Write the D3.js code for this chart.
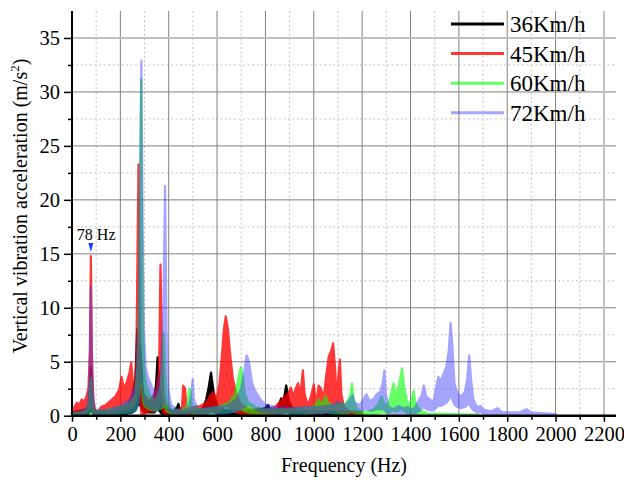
<!DOCTYPE html>
<html>
<head>
<meta charset="utf-8">
<script src="https://cdn.jsdelivr.net/npm/d3@7"></script>
<style>
  body { margin: 0; background: #fff; }
  text { font-family: "Liberation Serif", "Times New Roman", serif; fill: #000; }
</style>
</head>
<body>
<svg id="chart" width="624" height="482"></svg>
<script>
// Vibration spectra at four train speeds: frequency (Hz), upper and lower envelope (m/s^2)
const speeds = ["36Km/h", "45Km/h", "60Km/h", "72Km/h"];

const freq36 = [0, 20, 40, 60, 70, 75, 78, 81, 86, 95, 120, 160, 200, 230, 250, 262, 270, 276, 282, 286, 292, 300, 320, 340, 348, 354, 360, 370, 390, 420, 435, 440, 446, 460, 500, 540, 555, 565, 575, 582, 590, 605, 640, 700, 760, 800, 810, 820, 850, 865, 872, 880, 886, 895, 910, 950, 1000, 1050, 1100, 1150, 1200];
const hi36   = [0.3, 0.4, 0.5, 0.6, 1.0, 2.5, 4.5, 2.5, 0.8, 0.4, 0.4, 0.5, 0.7, 1.0, 1.8, 3.5, 8.0, 5.0, 6.5, 5.0, 2.5, 1.5, 1.2, 1.5, 3.0, 5.4, 3.0, 1.2, 0.6, 0.4, 0.8, 1.1, 0.6, 0.3, 0.4, 0.6, 1.5, 2.6, 4.0, 2.8, 1.6, 0.7, 0.5, 0.4, 0.5, 0.7, 1.0, 0.6, 0.6, 1.6, 1.2, 2.0, 2.8, 1.5, 0.7, 0.5, 0.4, 0.4, 0.4, 0.3, 0.2];
const lo36   = [0, 0.05, 0.05, 0.1, 0.2, 0.5, 1.0, 0.5, 0.2, 0.1, 0.1, 0.1, 0.1, 0.2, 0.3, 0.5, 1.0, 1.0, 1.0, 0.8, 0.5, 0.3, 0.3, 0.3, 0.5, 0.8, 0.5, 0.2, 0.1, 0.05, 0.1, 0.2, 0.1, 0.05, 0.05, 0.1, 0.2, 0.4, 0.6, 0.4, 0.3, 0.1, 0.1, 0.05, 0.1, 0.1, 0.2, 0.1, 0.1, 0.2, 0.2, 0.3, 0.4, 0.3, 0.1, 0.1, 0.05, 0.05, 0.05, 0.05, 0];

const freq45 = [0, 10, 20, 30, 40, 50, 60, 68, 74, 78, 82, 88, 95, 105, 120, 140, 160, 180, 195, 205, 215, 225, 238, 245, 252, 260, 266, 271, 275, 279, 283, 288, 295, 305, 320, 335, 350, 360, 366, 372, 378, 390, 410, 440, 455, 460, 468, 474, 500, 530, 555, 570, 585, 598, 610, 620, 628, 636, 645, 655, 665, 680, 700, 740, 800, 840, 865, 880, 892, 905, 915, 925, 935, 945, 955, 962, 975, 985, 1000, 1010, 1020, 1030, 1040, 1052, 1062, 1072, 1080, 1088, 1095, 1103, 1108, 1114, 1125, 1150, 1200];
const hi45   = [0.3, 0.8, 1.2, 1.0, 1.5, 1.3, 1.8, 2.5, 6.0, 14.8, 6.0, 1.5, 0.6, 0.3, 0.8, 1.0, 1.4, 1.8, 2.4, 3.6, 2.5, 3.0, 4.0, 4.9, 3.0, 2.5, 5.0, 15.0, 23.3, 12.0, 5.0, 2.5, 1.5, 1.8, 1.5, 1.8, 2.5, 4.0, 14.0, 6.0, 2.0, 0.8, 0.5, 0.5, 0.8, 2.8, 2.5, 0.6, 0.8, 0.9, 1.2, 1.8, 2.2, 1.5, 3.0, 5.5, 8.0, 9.2, 8.0, 5.5, 3.5, 2.0, 1.0, 0.6, 0.5, 0.8, 1.4, 1.8, 2.0, 2.6, 1.8, 2.5, 3.0, 2.0, 4.2, 2.0, 1.0, 1.5, 2.9, 1.0, 2.8, 2.5, 1.5, 3.8, 5.5, 6.0, 6.7, 4.5, 1.5, 4.0, 5.2, 2.0, 0.8, 0.4, 0.3];
const lo45   = [0, 0, 0.1, 0.1, 0.2, 0.2, 0.3, 0.5, 1.0, 3.0, 1.0, 0.3, 0.1, 0, 0.1, 0.2, 0.2, 0.3, 0.4, 0.5, 0.5, 0.6, 0.7, 0.8, 0.8, 1.0, 1.5, 3.0, 5.0, 3.0, 1.0, 0, 0, 0.3, 0.4, 0.4, 0.5, 1.0, 3.0, 1.0, 0.3, 0.1, 0, 0, 0.1, 0.3, 0.3, 0.1, 0.1, 0.2, 0.2, 0.3, 0.4, 0.3, 0.4, 0.6, 0.8, 1.0, 0.8, 0.6, 0.5, 0.3, 0.2, 0.1, 0.1, 0.1, 0.2, 0.3, 0.3, 0.4, 0.4, 0.4, 0.4, 0.4, 0.5, 0.3, 0.2, 0.2, 0.2, 0.2, 0.3, 0.3, 0.3, 0.4, 0.5, 0.5, 0.6, 0.5, 0.3, 0.4, 0.4, 0.2, 0.1, 0, 0];

const freq60 = [0, 40, 65, 73, 78, 83, 90, 140, 200, 240, 262, 272, 278, 283, 286, 289, 293, 298, 306, 320, 335, 350, 365, 375, 380, 385, 392, 410, 450, 475, 485, 490, 496, 540, 600, 650, 675, 688, 698, 706, 715, 730, 760, 800, 900, 1000, 1020, 1030, 1050, 1058, 1080, 1110, 1130, 1150, 1158, 1165, 1180, 1210, 1250, 1270, 1280, 1290, 1305, 1320, 1330, 1340, 1352, 1365, 1375, 1390, 1405, 1413, 1420, 1440, 1470, 1550, 1680];
const hi60   = [0.2, 0.3, 0.6, 1.5, 3.5, 1.5, 0.4, 0.5, 0.8, 1.2, 2.0, 5.0, 12.0, 24.0, 31.2, 20.0, 8.0, 4.5, 3.0, 2.0, 1.5, 1.5, 2.5, 4.5, 7.6, 4.0, 1.5, 0.6, 0.5, 0.8, 2.5, 2.3, 0.8, 0.6, 0.8, 1.2, 2.0, 3.5, 4.5, 3.8, 2.0, 1.2, 0.8, 0.6, 0.6, 0.8, 1.5, 1.0, 1.8, 1.2, 0.9, 1.2, 1.0, 1.8, 3.0, 1.5, 0.6, 0.3, 0.6, 1.2, 1.8, 1.2, 0.8, 2.0, 3.0, 1.8, 2.8, 4.4, 2.5, 0.8, 1.5, 2.3, 1.2, 0.5, 0.2, 0.15, 0.1];
const lo60   = [0, 0.05, 0.1, 0.3, 0.5, 0.3, 0.1, 0.1, 0.2, 0.3, 0.5, 1.0, 2.0, 4.0, 5.0, 3.0, 1.5, 1.0, 0.8, 0.6, 0.5, 0.5, 0.6, 0.8, 1.0, 0.8, 0.4, 0.2, 0.1, 0.2, 0.3, 0.3, 0.2, 0.1, 0.2, 0.3, 0.4, 0.5, 0.6, 0.5, 0.4, 0.3, 0.2, 0.2, 0.1, 0.2, 0.3, 0.2, 0.3, 0.3, 0.2, 0.2, 0.2, 0.3, 0.4, 0.3, 0.1, 0.05, 0.1, 0.2, 0.3, 0.3, 0.2, 0.4, 0.5, 0.4, 0.5, 0.6, 0.4, 0.2, 0.2, 0.3, 0.2, 0.1, 0.05, 0.02, 0];

const freq72 = [0, 40, 65, 72, 78, 84, 92, 140, 200, 240, 265, 275, 281, 287, 292, 297, 305, 315, 325, 340, 355, 368, 378, 385, 391, 398, 410, 440, 480, 494, 499, 504, 520, 580, 640, 680, 700, 712, 722, 732, 745, 760, 780, 800, 850, 900, 960, 1020, 1080, 1100, 1130, 1150, 1160, 1170, 1190, 1205, 1218, 1230, 1245, 1260, 1275, 1285, 1292, 1298, 1310, 1330, 1350, 1370, 1390, 1405, 1420, 1435, 1445, 1455, 1465, 1480, 1495, 1505, 1515, 1525, 1535, 1548, 1558, 1566, 1573, 1582, 1595, 1610, 1625, 1635, 1643, 1650, 1660, 1675, 1690, 1700, 1730, 1760, 1780, 1850, 1880, 1900, 2000];
const hi72   = [0.2, 0.4, 0.8, 3.0, 12.0, 3.0, 0.5, 0.5, 0.9, 1.5, 3.0, 8.0, 20.0, 32.9, 18.0, 8.0, 4.5, 3.5, 3.0, 2.0, 2.5, 4.0, 10.0, 21.3, 8.0, 2.5, 1.0, 0.5, 0.6, 2.0, 3.4, 1.5, 0.6, 0.8, 0.9, 1.5, 2.5, 4.0, 5.6, 5.0, 3.0, 2.2, 1.5, 1.0, 0.8, 0.7, 0.8, 0.8, 1.0, 1.3, 1.0, 1.5, 1.9, 1.2, 1.0, 1.5, 2.0, 1.4, 1.5, 2.0, 2.2, 3.0, 4.2, 2.0, 0.8, 0.6, 0.9, 0.7, 0.8, 0.5, 0.8, 1.5, 1.8, 2.8, 1.8, 1.5, 1.3, 2.5, 3.6, 3.2, 3.8, 4.5, 6.0, 8.6, 6.5, 3.0, 2.0, 1.8, 2.2, 3.5, 5.6, 3.5, 1.5, 0.8, 0.9, 0.6, 0.4, 0.7, 0.3, 0.3, 0.6, 0.3, 0.15];
const lo72   = [0, 0.05, 0.1, 0.5, 2.0, 0.5, 0.1, 0.1, 0.2, 0.3, 0.5, 1.0, 3.0, 5.0, 3.0, 1.5, 1.0, 0.8, 0.7, 0.5, 0.5, 0.8, 1.0, 2.0, 1.0, 0.5, 0.3, 0.1, 0.2, 0.3, 0.4, 0.3, 0.2, 0.2, 0.2, 0.4, 0.6, 0.8, 1.0, 1.0, 0.8, 0.6, 0.4, 0.3, 0.2, 0.2, 0.2, 0.2, 0.3, 0.3, 0.3, 0.4, 0.5, 0.4, 0.4, 0.5, 0.6, 0.5, 0.5, 0.6, 0.6, 0.6, 0.6, 0.4, 0.2, 0.2, 0.2, 0.2, 0.2, 0.1, 0.2, 0.4, 0.6, 0.8, 0.6, 0.5, 0.5, 0.7, 0.9, 0.9, 1.0, 1.2, 1.5, 2.0, 1.5, 1.0, 0.8, 0.7, 0.8, 1.0, 1.2, 0.8, 0.5, 0.3, 0.3, 0.2, 0.1, 0.1, 0.1, 0.05, 0.1, 0.05, 0];

const xTicks = [0, 200, 400, 600, 800, 1000, 1200, 1400, 1600, 1800, 2000, 2200];
const yTicks = [0, 5, 10, 15, 20, 25, 30, 35];
const peakLabel = "78 Hz";
const peakFreq = 78;
const peakValue = 14.8;

const series = [
  { name: speeds[0], f: freq36, hi: hi36, lo: lo36, color: "#000000", opacity: 1 },
  { name: speeds[1], f: freq45, hi: hi45, lo: lo45, color: "#ff0000", opacity: 0.78 },
  { name: speeds[2], f: freq60, hi: hi60, lo: lo60, color: "#00ff00", opacity: 0.6 },
  { name: speeds[3], f: freq72, hi: hi72, lo: lo72, color: "#3a3aff", opacity: 0.45 }
];

const svg = d3.select("#chart");
const x = d3.scaleLinear().domain([0, 2250]).range([72, 616]);
const y = d3.scaleLinear().domain([0, 37.5]).range([415.7, 11]);
const plotTop = y.range()[1], plotBottom = y.range()[0], plotLeft = x.range()[0], plotRight = x.range()[1];

// grid
const grid = svg.append("g");
grid.selectAll(".vminor").data(d3.range(100, 2200, 200)).join("line")
  .attr("x1", d => x(d)).attr("x2", d => x(d)).attr("y1", plotTop).attr("y2", plotBottom)
  .attr("stroke", "#c4c4c4").attr("stroke-width", 1).attr("stroke-dasharray", "2,2.5");
grid.selectAll(".hminor").data(d3.range(2.5, 35, 5)).join("line")
  .attr("x1", plotLeft).attr("x2", plotRight).attr("y1", d => y(d)).attr("y2", d => y(d))
  .attr("stroke", "#c4c4c4").attr("stroke-width", 1).attr("stroke-dasharray", "2,2.5");
grid.selectAll(".vmajor").data(xTicks.filter(d => d > 0 && d < 2200)).join("line")
  .attr("x1", d => x(d)).attr("x2", d => x(d)).attr("y1", plotTop).attr("y2", plotBottom)
  .attr("stroke", "#808080").attr("stroke-width", 1);
grid.selectAll(".hmajor").data(yTicks.filter(d => d > 0 && d < 35)).join("line")
  .attr("x1", plotLeft).attr("x2", plotRight).attr("y1", d => y(d)).attr("y2", d => y(d))
  .attr("stroke", "#808080").attr("stroke-width", 1);
// outer frame lines at 35 and 2200
grid.append("line").attr("x1", plotLeft).attr("x2", plotRight).attr("y1", y(35)).attr("y2", y(35))
  .attr("stroke", "#c0c0c0").attr("stroke-width", 2);
grid.append("line").attr("x1", x(2200)).attr("x2", x(2200)).attr("y1", plotTop).attr("y2", plotBottom)
  .attr("stroke", "#c0c0c0").attr("stroke-width", 2);

// spectra
const plot = svg.append("g");
series.forEach(s => {
  const pts = s.f.map((f, i) => ({ f, hi: s.hi[i], lo: s.lo[i] }));
  const area = d3.area().x(d => x(d.f)).y0(d => y(d.lo)).y1(d => y(d.hi));
  plot.append("g").attr("opacity", s.opacity)
    .append("path").datum(pts).attr("d", area)
    .attr("fill", s.color).attr("stroke", s.color).attr("stroke-width", 2.2)
    .attr("stroke-linejoin", "round");
});

// axes
const xAxis = d3.axisBottom(x).tickValues(xTicks).tickSize(6).tickPadding(5).tickFormat(d3.format("d"));
const gx = svg.append("g").attr("transform", `translate(0,${plotBottom})`).call(xAxis);
gx.select(".domain").attr("d", `M${plotLeft},0H${plotRight}`).attr("stroke-width", 2.5);
gx.selectAll(".tick line").attr("stroke-width", 1.5);
gx.selectAll(".tick text").attr("font-size", 20.5).attr("font-family", "Liberation Serif");
svg.append("g").attr("transform", `translate(0,${plotBottom})`)
  .call(d3.axisBottom(x).tickValues(d3.range(100, 2250, 200)).tickSize(4).tickFormat(""))
  .call(g => g.select(".domain").remove())
  .selectAll(".tick line").attr("stroke-width", 1.5);

const yAxis = d3.axisLeft(y).tickValues(yTicks).tickSize(8).tickPadding(4);
const gy = svg.append("g").attr("transform", `translate(${plotLeft},0)`).call(yAxis);
gy.select(".domain").attr("d", `M0,${plotTop}V${plotBottom}`).attr("stroke-width", 2);
gy.selectAll(".tick line").attr("stroke-width", 1.5);
gy.selectAll(".tick text").attr("font-size", 20.5).attr("font-family", "Liberation Serif");
svg.append("g").attr("transform", `translate(${plotLeft},0)`)
  .call(d3.axisLeft(y).tickValues(d3.range(2.5, 37.5, 5)).tickSize(4).tickFormat(""))
  .call(g => g.select(".domain").remove())
  .selectAll(".tick line").attr("stroke-width", 1.5);

// axis titles
svg.append("text").attr("x", 344).attr("y", 472).attr("text-anchor", "middle")
  .attr("font-size", 20).text("Frequency (Hz)");
const yt = svg.append("text").attr("transform", "translate(27,206) rotate(-90)")
  .attr("text-anchor", "middle").attr("font-size", 20);
yt.append("tspan").text("Vertical vibration acceleration (m/s");
yt.append("tspan").attr("font-size", 13).attr("dy", -8).text("2");
yt.append("tspan").attr("dy", 8).text(")");

// peak annotation
svg.append("text").attr("x", x(peakFreq) - 14).attr("y", y(peakValue) - 16)
  .attr("font-size", 16).text(peakLabel);
svg.append("path")
  .attr("d", `M${x(peakFreq) - 2.5},${y(peakValue) - 13}L${x(peakFreq) + 2.5},${y(peakValue) - 13}L${x(peakFreq)},${y(peakValue) - 4}Z`)
  .attr("fill", "#1a3cff");

// legend
const legend = svg.append("g");
series.forEach((s, i) => {
  const ly = 24 + i * 29.6;
  legend.append("line").attr("x1", 451).attr("x2", 504).attr("y1", ly).attr("y2", ly)
    .attr("stroke", s.color).attr("stroke-opacity", s.opacity).attr("stroke-width", 3);
  legend.append("text").attr("x", 510).attr("y", ly + 8).attr("font-size", 23).text(s.name);
});
</script>
</body>
</html>
